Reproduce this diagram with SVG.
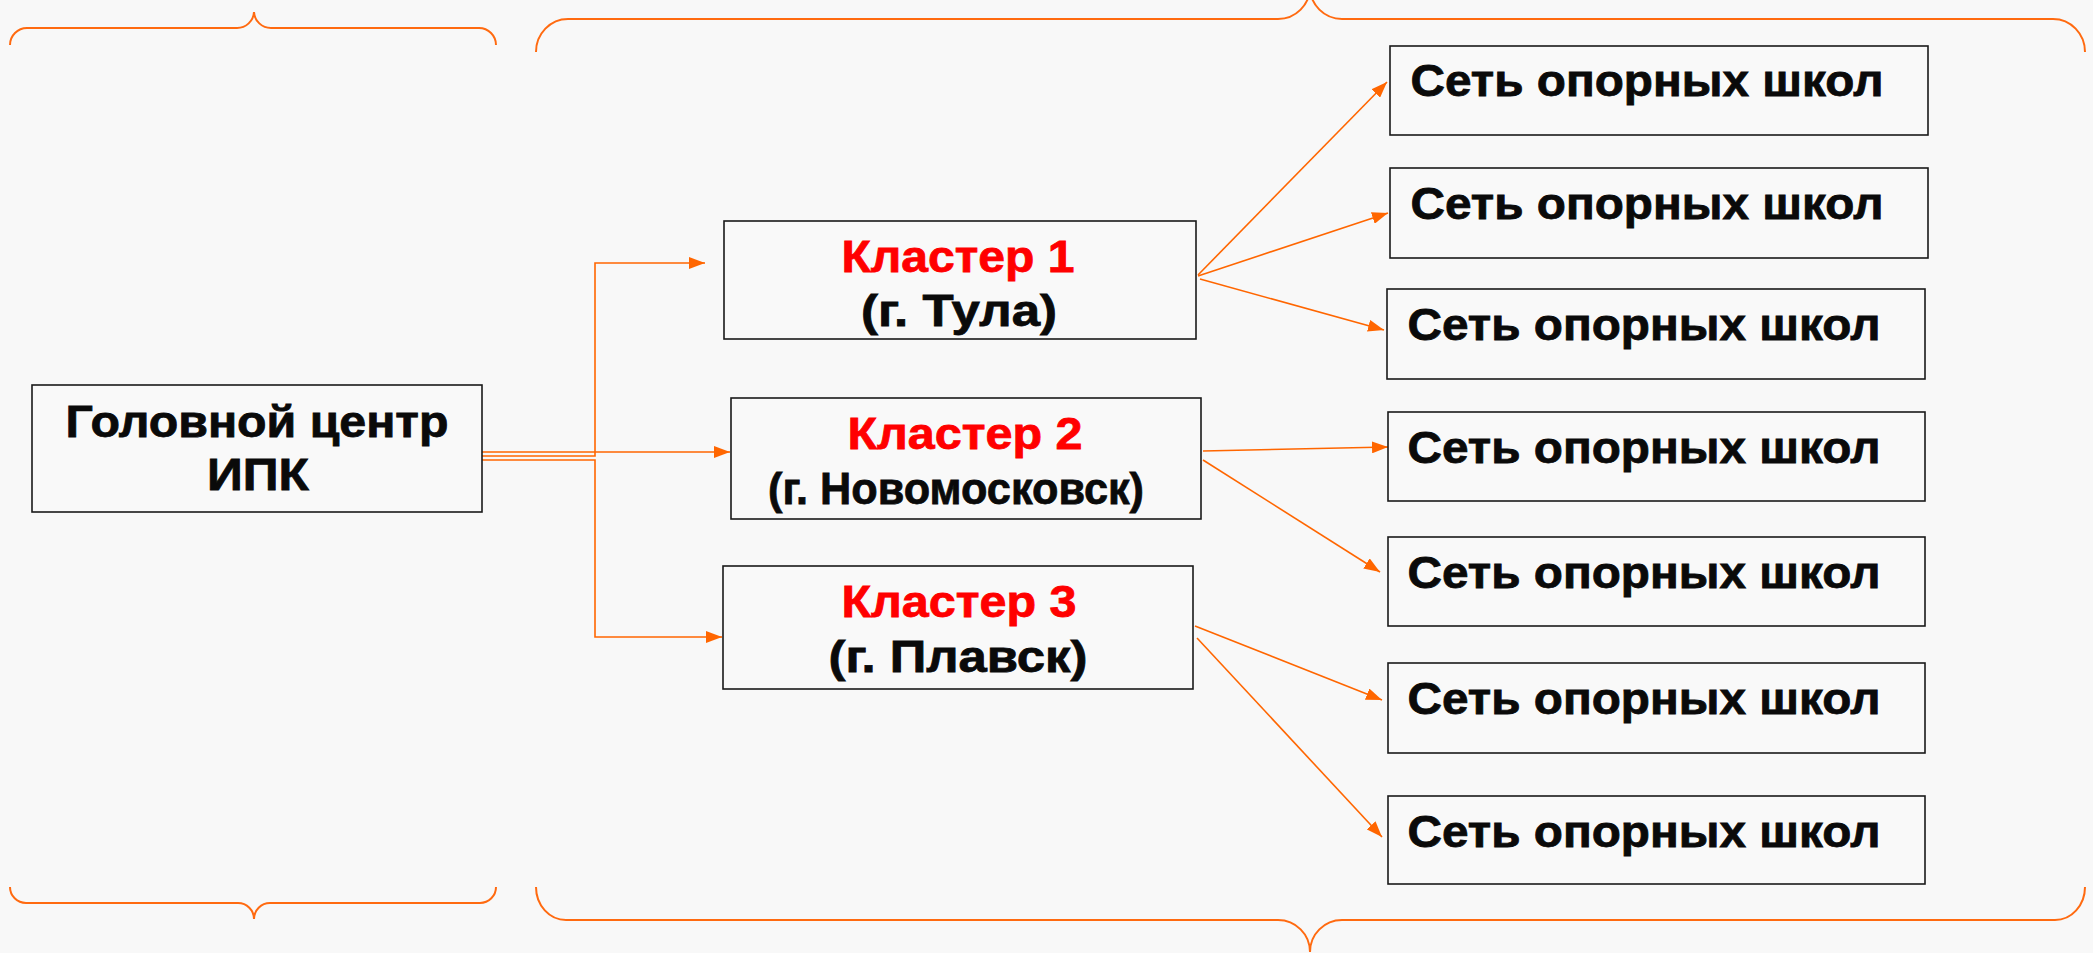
<svg xmlns="http://www.w3.org/2000/svg" width="2093" height="953" viewBox="0 0 2093 953">
<defs>
<style>
.box{fill:#f9f9f9;stroke:#1a1a1a;stroke-width:1.6}
.t{font-family:"Liberation Sans",Arial,sans-serif;font-weight:bold;font-size:45px;fill:#0a0a0a;stroke:#0a0a0a;stroke-width:0.8;text-anchor:middle}
.r{fill:#ff0000;stroke:#ff0000}
.ln{fill:none;stroke:#ff6600;stroke-width:1.6}
.br{fill:none;stroke:#ff6a10;stroke-width:2}
</style>
<marker id="ah" markerUnits="userSpaceOnUse" markerWidth="16" markerHeight="12" refX="16" refY="6" orient="auto">
<path d="M0,0 L16,6 L0,12 z" fill="#ff6600"/>
</marker>
</defs>
<rect width="2093" height="953" fill="#f8f8f8"/>
<g id="braces">
<path class="br" d="M10,45 A17,17 0 0 1 27,28 H237 A17,17 0 0 0 254,12 A17,17 0 0 0 271,28 H479 A17,17 0 0 1 496,45"/>
<path class="br" d="M10,887 A16,16 0 0 0 26,903 H238 A16,16 0 0 1 254,919 A16,16 0 0 1 270,903 H480 A16,16 0 0 0 496,887"/>
<path class="br" d="M536,52 A32,33 0 0 1 568,19 H1278 A32,32 0 0 0 1310,-13 A32,32 0 0 0 1342,19 H2053 A32,33 0 0 1 2085,52"/>
<path class="br" d="M536,887 A30,33 0 0 0 566,920 H1278 A32,32 0 0 1 1310,952 A32,32 0 0 1 1342,920 H2055 A30,33 0 0 0 2085,887"/>
</g>
<g id="connectors">
<path class="ln" d="M482,452 H730" marker-end="url(#ah)"/>
<path class="ln" d="M482,456 H595 V263 H705" marker-end="url(#ah)"/>
<path class="ln" d="M482,460 H595 V637 H722" marker-end="url(#ah)"/>
<path class="ln" d="M1198,275 L1387,82" marker-end="url(#ah)"/>
<path class="ln" d="M1198,276 L1388,213" marker-end="url(#ah)"/>
<path class="ln" d="M1200,279 L1384,330" marker-end="url(#ah)"/>
<path class="ln" d="M1203,451 L1388,447" marker-end="url(#ah)"/>
<path class="ln" d="M1203,460 L1380,572" marker-end="url(#ah)"/>
<path class="ln" d="M1195,626 L1382,700" marker-end="url(#ah)"/>
<path class="ln" d="M1197,638 L1382,837" marker-end="url(#ah)"/>
</g>
<g id="head">
<rect class="box" x="32" y="385" width="450" height="127"/>
<text class="t" x="257" y="437" textLength="383" lengthAdjust="spacingAndGlyphs">Головной центр</text>
<text class="t" x="258" y="490" textLength="102" lengthAdjust="spacingAndGlyphs">ИПК</text>
</g>
<g id="cluster1">
<rect class="box" x="724" y="221" width="472" height="118"/>
<text class="t r" x="958" y="272" textLength="233" lengthAdjust="spacingAndGlyphs">Кластер 1</text>
<text class="t" x="959" y="326" textLength="196" lengthAdjust="spacingAndGlyphs">(г. Тула)</text>
</g>
<g id="cluster2">
<rect class="box" x="731" y="398" width="470" height="121"/>
<text class="t r" x="965" y="449" textLength="235" lengthAdjust="spacingAndGlyphs">Кластер 2</text>
<text class="t" x="956" y="504" textLength="376" lengthAdjust="spacingAndGlyphs">(г. Новомосковск)</text>
</g>
<g id="cluster3">
<rect class="box" x="723" y="566" width="470" height="123"/>
<text class="t r" x="959" y="617" textLength="235" lengthAdjust="spacingAndGlyphs">Кластер 3</text>
<text class="t" x="958" y="672" textLength="259" lengthAdjust="spacingAndGlyphs">(г. Плавск)</text>
</g>
<g id="school1">
<rect class="box" x="1390" y="46" width="538" height="89"/>
<text class="t" x="1647" y="96" textLength="473" lengthAdjust="spacingAndGlyphs">Сеть опорных школ</text>
</g>
<g id="school2">
<rect class="box" x="1390" y="168" width="538" height="90"/>
<text class="t" x="1647" y="219" textLength="473" lengthAdjust="spacingAndGlyphs">Сеть опорных школ</text>
</g>
<g id="school3">
<rect class="box" x="1387" y="289" width="538" height="90"/>
<text class="t" x="1644" y="340" textLength="473" lengthAdjust="spacingAndGlyphs">Сеть опорных школ</text>
</g>
<g id="school4">
<rect class="box" x="1388" y="412" width="537" height="89"/>
<text class="t" x="1644" y="463" textLength="473" lengthAdjust="spacingAndGlyphs">Сеть опорных школ</text>
</g>
<g id="school5">
<rect class="box" x="1388" y="537" width="537" height="89"/>
<text class="t" x="1644" y="588" textLength="473" lengthAdjust="spacingAndGlyphs">Сеть опорных школ</text>
</g>
<g id="school6">
<rect class="box" x="1388" y="663" width="537" height="90"/>
<text class="t" x="1644" y="714" textLength="473" lengthAdjust="spacingAndGlyphs">Сеть опорных школ</text>
</g>
<g id="school7">
<rect class="box" x="1388" y="796" width="537" height="88"/>
<text class="t" x="1644" y="847" textLength="473" lengthAdjust="spacingAndGlyphs">Сеть опорных школ</text>
</g>
</svg>
